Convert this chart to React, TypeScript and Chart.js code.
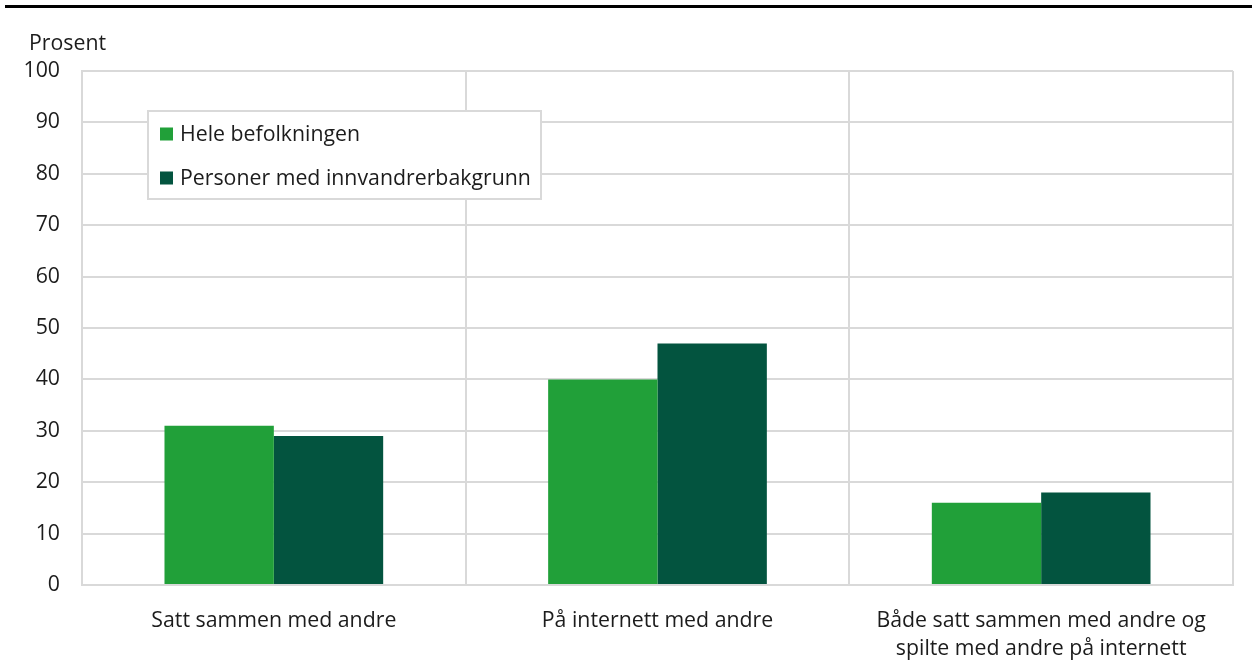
import React, { useEffect, useRef } from "react";
import { Chart, registerables } from "chart.js";

Chart.register(...registerables);

const categories: (string | string[])[] = [
  "Satt sammen med andre",
  "På internett med andre",
  ["Både satt sammen med andre og", "spilte med andre på internett"],
];
const seriesNames = ["Hele befolkningen", "Personer med innvandrerbakgrunn"];
const heleBefolkningen = [31, 40, 16];
const innvandrerbakgrunn = [29, 47, 18];
const seriesColors = ["#21a039", "#03543f"];
const yAxisTitle = "Prosent";

const FONT = "'Open Sans', 'Noto Sans', sans-serif";
const FS = 21.3;
const TEXT = "#1c1c1c";
const GRID = "#d9d9d9";

const decorPlugin = {
  id: "decor",
  afterDraw(chart: any) {
    const ctx = chart.ctx as CanvasRenderingContext2D;
    ctx.save();
    // top black rule
    ctx.fillStyle = "#000";
    ctx.fillRect(5, 5, chart.width - 5, 3);
    // axis title
    ctx.fillStyle = TEXT;
    ctx.font = `${FS}px ${FONT}`;
    ctx.textBaseline = "middle";
    ctx.textAlign = "left";
    ctx.fillText(yAxisTitle, 29, 44);
    // legend box
    const bx = 148, by = 111, bw = 393, bh = 88;
    ctx.fillStyle = "#fff";
    ctx.fillRect(bx, by, bw, bh);
    ctx.strokeStyle = GRID;
    ctx.lineWidth = 2;
    ctx.strokeRect(bx, by, bw, bh);
    chart.data.datasets.forEach((ds: any, i: number) => {
      const cy = 134 + i * 44;
      ctx.fillStyle = ds.backgroundColor;
      ctx.fillRect(160, cy - 6.5, 13, 13);
      ctx.fillStyle = TEXT;
      ctx.font = `${FS}px ${FONT}`;
      ctx.textBaseline = "middle";
      ctx.fillText(ds.label, 180, cy + 1);
    });
    ctx.restore();
  },
};

export default function App() {
  const ref = useRef<HTMLCanvasElement | null>(null);
  useEffect(() => {
    if (!ref.current) return;
    const chart = new Chart(ref.current, {
      type: "bar",
      data: {
        labels: categories,
        datasets: [
          { label: seriesNames[0], data: heleBefolkningen, backgroundColor: seriesColors[0] },
          { label: seriesNames[1], data: innvandrerbakgrunn, backgroundColor: seriesColors[1] },
        ],
      },
      options: {
        animation: false,
        responsive: false,
        maintainAspectRatio: false,
        layout: { padding: { top: 71, right: 19, bottom: 0, left: 0 } },
        datasets: { bar: { categoryPercentage: 0.57, barPercentage: 1.0 } },
        plugins: { legend: { display: false }, tooltip: { enabled: false }, title: { display: false } },
        scales: {
          x: {
            grid: { color: GRID, lineWidth: 2, drawTicks: false, offset: true },
            border: { color: GRID, width: 2 },
            ticks: {
              color: TEXT,
              font: { family: FONT, size: FS, lineHeight: 1.3 },
              padding: 22,
              maxRotation: 0,
              autoSkip: false,
            },
            afterFit: (s: any) => {
              s.height = 79;
            },
          },
          y: {
            min: 0,
            max: 100,
            grid: { color: GRID, lineWidth: 2, drawTicks: false },
            border: { color: GRID, width: 2 },
            ticks: {
              stepSize: 10,
              color: TEXT,
              font: { family: FONT, size: FS },
              padding: 22,
            },
            afterFit: (s: any) => {
              s.width = 82;
            },
          },
        },
      },
      plugins: [decorPlugin],
    });
    return () => chart.destroy();
  }, []);
  return (
    <div style={{ position: "fixed", left: 0, top: 0, width: 1252, height: 664, background: "#fff" }}>
      <canvas ref={ref} width={1252} height={664} style={{ display: "block", width: 1252, height: 664 }} />
    </div>
  );
}
